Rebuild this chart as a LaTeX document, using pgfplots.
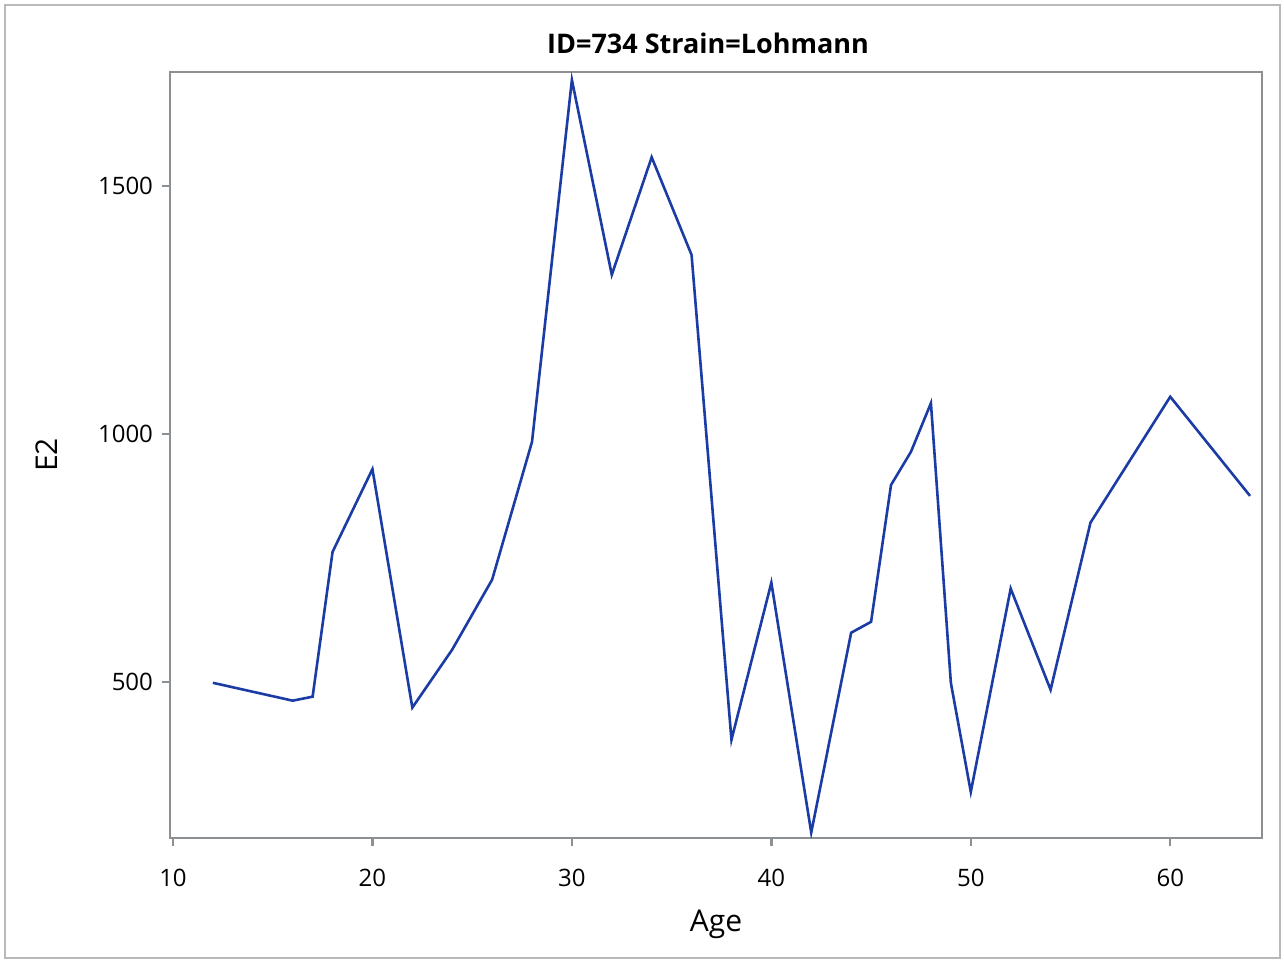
\documentclass[border=0pt]{standalone}
\usepackage{pgfplots}
\pgfplotsset{compat=1.18}
\usepackage{fontspec}
\setmainfont{Open Sans}
\definecolor{axgray}{RGB}{140,144,146}
\definecolor{bordgray}{RGB}{185,185,185}
\definecolor{lineblue}{RGB}{28,60,165}
\begin{document}
\begin{tikzpicture}[x=0.5pt,y=0.5pt]
\useasboundingbox (0,0) rectangle (1284,962);
\draw[bordgray, line width=1.2pt] (5,4) rectangle (1280,957);
\begin{axis}[
  at={(170pt*0.5,124pt*0.5)}, anchor=south west,
  scale only axis, width=546pt, height=383pt,
  xmin=9.85, xmax=64.6, ymin=185, ymax=1730,
  xtick={10,20,...,60}, ytick={500,1000,1500},
  tick align=outside, major tick length=4pt,
  tick style={axgray, line width=1.2pt},
  axis line style={axgray, line width=1.3pt},
  xtick pos=bottom, ytick pos=left,
  /pgf/number format/assume math mode=true,
  /pgf/number format/1000 sep={},
  tick label style={font=\fontsize{12}{14}\selectfont, text=black},
  xticklabel style={yshift=-8pt},
  yticklabel style={xshift=-1pt},
  xlabel={Age}, ylabel={E2},
  label style={font=\fontsize{15}{18}\selectfont},
  xlabel style={at={(axis description cs:0.5,-0.1123)}, anchor=center},
  ylabel style={at={(axis description cs:-0.1126,0.5)}, anchor=center},
  title={ID=734 Strain=Lohmann},
  title style={at={(axis description cs:0.4927,1.0222)}, anchor=center, font=\fontsize{13.5}{16}\selectfont\bfseries},
]
\addplot[lineblue, line width=1.3pt, mark=none, line join=miter] coordinates {
(12,498) (16,462) (17,470) (18,762) (20,929) (22,448) (24,565) (26,706) (28,984)
(30,1714) (32,1321) (34,1558) (36,1361) (38,383) (40,700) (42,196) (44,599) (45,621)
(46,897) (47,964) (48,1062) (49,498) (50,278) (52,688) (54,484) (56,821) (60,1075) (64,875)
};
\end{axis}
\end{tikzpicture}
\end{document}
